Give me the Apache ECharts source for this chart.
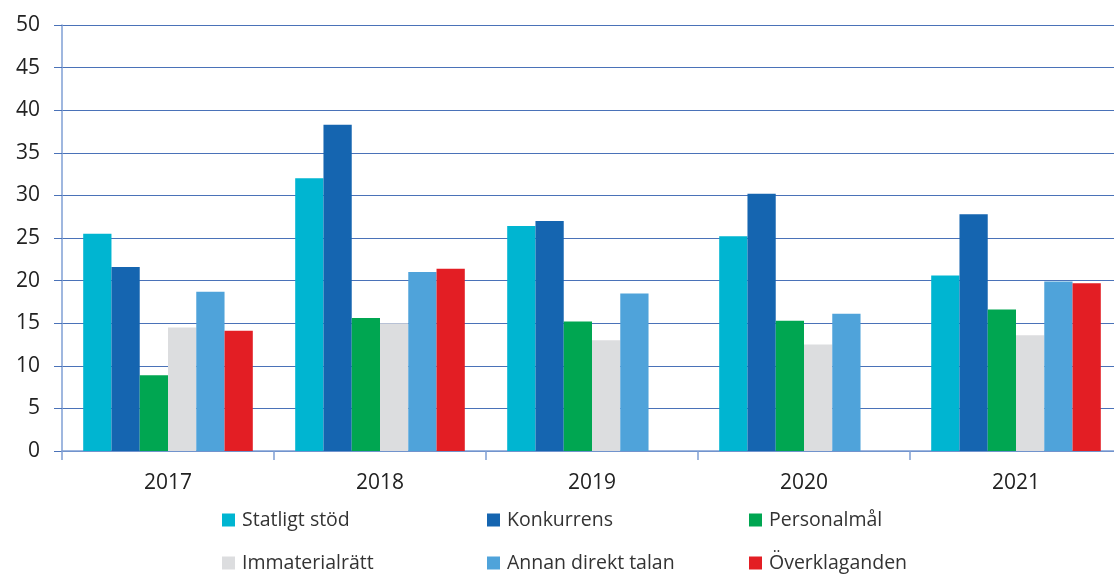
<!DOCTYPE html>
<html>
<head>
<meta charset="utf-8">
<script src="https://cdn.jsdelivr.net/npm/echarts@6/dist/echarts.min.js"></script>
<style>
  html, body { margin: 0; padding: 0; background: #fff; overflow: hidden; }
  /* a bit wider than the window: the last category runs past the right edge in the original */
  #chart { width: 1124px; height: 574px; }
</style>
</head>
<body>
<div id="chart"></div>
<script>
const years = ['2017', '2018', '2019', '2020', '2021']
const seriesNames = ['Statligt stöd', 'Konkurrens', 'Personalmål', 'Immaterialrätt', 'Annan direkt talan', 'Överklaganden']
const colors = ['#00b5d1', '#1565b0', '#00a651', '#dcdddf', '#4fa3da', '#e31e24']

const statligtStod = [25.5, 32.0, 26.4, 25.2, 20.6]
const konkurrens = [21.6, 38.3, 27.0, 30.2, 27.8]
const personalmal = [8.9, 15.6, 15.2, 15.3, 16.6]
const immaterialratt = [14.5, 15.0, 13.0, 12.5, 13.6]
const annanDirektTalan = [18.7, 21.0, 18.5, 16.1, 19.9]
const overklaganden = [14.1, 21.4, null, null, 19.7]

const values = [statligtStod, konkurrens, personalmal, immaterialratt, annanDirektTalan, overklaganden]

// one legend per item, laid out 3 x 2 like the original
const legendPos = [
  { left: 222, top: 510 }, { left: 487, top: 510 }, { left: 749, top: 510 },
  { left: 222, top: 553 }, { left: 487, top: 553 }, { left: 749, top: 553 }
]

var myChart = echarts.init(document.getElementById('chart'))

let option = {
  animation: false,
  textStyle: { fontFamily: 'Open Sans' },
  legend: legendPos.map(function (p, i) {
    return {
      data: [seriesNames[i]],
      left: p.left,
      top: p.top,
      icon: 'rect',
      itemWidth: 13,
      itemHeight: 13,
      itemGap: 0,
      padding: 0,
      textStyle: { fontSize: 19.5, color: '#333', fontFamily: 'Open Sans', padding: [0, 0, 0, 2] }
    }
  }),
  grid: { left: 62, right: 2, top: 25, bottom: 123 },
  xAxis: {
    type: 'category',
    data: years,
    axisLine: { lineStyle: { color: '#7f9fd4', width: 1.5 } },
    axisTick: { show: true, length: 9, lineStyle: { color: '#7f9fd4', width: 1.5 } },
    axisLabel: { fontSize: 21, color: '#222', margin: 22, fontFamily: 'Open Sans' }
  },
  yAxis: {
    type: 'value',
    min: 0,
    max: 50,
    interval: 5,
    axisLine: { show: true, lineStyle: { color: '#7f9fd4', width: 1.5 } },
    axisTick: { show: true, length: 8, lineStyle: { color: '#4a72b8' } },
    splitLine: { lineStyle: { color: '#4a72b8', width: 1.2 } },
    axisLabel: { fontSize: 21, color: '#222', margin: 22, fontFamily: 'Open Sans' }
  },
  series: seriesNames.map(function (name, i) {
    return {
      name: name,
      type: 'bar',
      data: values[i],
      barGap: '0%',
      barCategoryGap: '20%',
      itemStyle: { color: colors[i] }
    }
  })
}
myChart.setOption(option)
</script>
</body>
</html>
